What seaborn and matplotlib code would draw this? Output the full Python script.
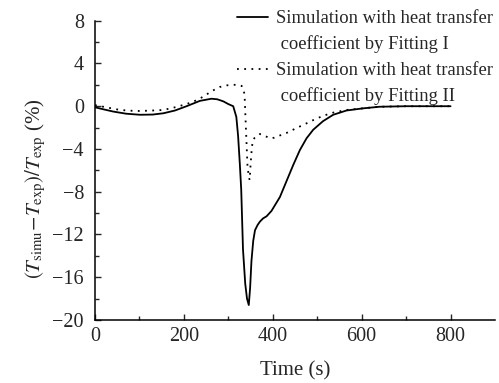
import numpy as np
import pandas as pd
import matplotlib
matplotlib.use("Agg")
import matplotlib.pyplot as plt
import seaborn as sns
from matplotlib.lines import Line2D

# Relative temperature deviation vs. time, two heat transfer coefficient fits
time_fit1 = [0, 20, 41, 70, 101, 130, 154, 180, 206, 236, 262, 275, 289, 300, 311,
             318, 322, 326, 329, 333, 338, 342, 346, 349, 352, 356, 360, 366, 371,
             378, 386, 397, 416, 431, 446, 461, 476, 491, 513, 536, 566, 603, 640,
             700, 750, 800]
dev_fit1 = [-0.1, -0.3, -0.5, -0.7, -0.8, -0.78, -0.66, -0.4, 0.0, 0.5, 0.7, 0.65,
            0.45, 0.2, 0.0, -1.0, -2.8, -5.5, -7.8, -13.4, -16.6, -18.0, -18.6,
            -17.0, -14.5, -12.6, -11.6, -11.1, -10.8, -10.5, -10.3, -9.8, -8.5,
            -7.0, -5.5, -4.1, -3.0, -2.2, -1.4, -0.8, -0.4, -0.2, -0.05, 0.0, 0.0,
            0.0]

time_fit2 = [0, 25, 56, 80, 101, 130, 154, 180, 206, 225, 244, 262, 281, 296, 311,
             322, 330, 335, 337, 339, 341, 343, 346, 348, 350, 353, 356, 363, 371,
             378, 386, 393, 403, 412, 431, 453, 476, 491, 513, 536, 566, 603, 640,
             700, 750, 800]
dev_fit2 = [0.1, -0.1, -0.35, -0.42, -0.45, -0.4, -0.35, -0.1, 0.2, 0.5, 0.9, 1.4,
            1.8, 1.95, 2.0, 2.0, 1.9, 1.5, 0.6, -1.5, -3.5, -5.5, -6.6, -6.9, -5.5,
            -3.8, -3.1, -2.8, -2.6, -2.7, -2.85, -3.0, -2.95, -2.8, -2.5, -2.05,
            -1.6, -1.3, -0.9, -0.6, -0.35, -0.2, -0.05, 0.0, 0.0, 0.0]

x_ticks = [0, 200, 400, 600, 800]
y_ticks = [8, 4, 0, -4, -8, -12, -16, -20]

legend_lines = ["Simulation with heat transfer", " coefficient by Fitting I",
                "Simulation with heat transfer", " coefficient by Fitting II"]

sns.set_style("ticks")
plt.rcParams["font.family"] = ["Liberation Serif", "DejaVu Serif"]
plt.rcParams["mathtext.fontset"] = "stix"
plt.rcParams["axes.unicode_minus"] = True

df1 = pd.DataFrame({"t": time_fit1, "dev": dev_fit1})
df2 = pd.DataFrame({"t": time_fit2, "dev": dev_fit2})

fig = plt.figure(figsize=(4.99, 3.83), dpi=100)
ax = fig.add_axes([95 / 499, 63 / 383, 400 / 499, 299.3 / 383])

sns.lineplot(data=df1, x="t", y="dev", ax=ax, color="black", lw=1.3,
             sort=False, estimator=None)
sns.lineplot(data=df2, x="t", y="dev", ax=ax, color="black", lw=1.3,
             linestyle=(0, (1, 3)), sort=False, estimator=None)

ax.set_xlim(0, 900)
ax.set_ylim(-20, 8)
ax.set_xticks(x_ticks)
ax.set_yticks(y_ticks)
ax.set_xticks(np.arange(100, 900, 200), minor=True)
ax.set_yticks(np.arange(-18, 8, 4), minor=True)
ax.tick_params(which="both", direction="in", labelsize=14.5, width=1)
ax.tick_params(which="major", length=4.5)
ax.tick_params(which="minor", length=3)
ax.tick_params(axis="y", pad=8)
ax.tick_params(axis="x", pad=5)
for s in ["top", "right"]:
    ax.spines[s].set_visible(False)
for s in ["left", "bottom"]:
    ax.spines[s].set_linewidth(1.1)
    ax.spines[s].set_color("black")

ax.set_xlabel("Time (s)", fontsize=15, labelpad=11)
ax.set_ylabel(r"$(T_{\rm simu}\!-\!T_{\rm exp})/T_{\rm exp}$ (%)", fontsize=15)
ax.yaxis.set_label_coords(-0.118, 0.44)

blank = Line2D([], [], color="none")
handles = [Line2D([], [], color="black", lw=1.3), blank,
           Line2D([], [], color="black", lw=1.3, linestyle=(0, (1, 3))), blank]
ax.legend(handles, legend_lines, loc="upper left",
          bbox_to_anchor=(237 / 499, 1 - 10 / 383), bbox_transform=fig.transFigure,
          frameon=False, fontsize=13.4, handlelength=1.67, handletextpad=0.4,
          labelspacing=0.46, borderpad=0, borderaxespad=0)

fig.savefig("out.png", dpi=100)
